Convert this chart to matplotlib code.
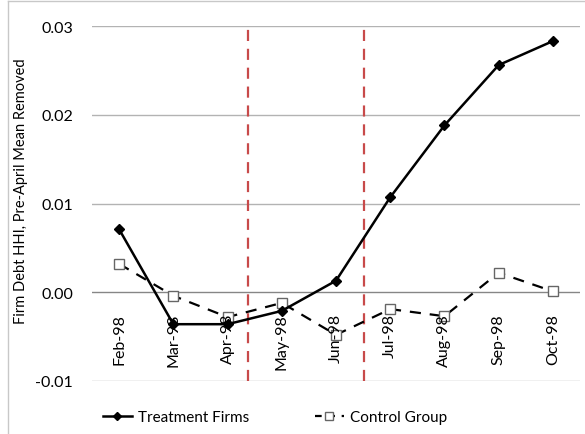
import matplotlib.pyplot as plt
from matplotlib.lines import Line2D

# data
months = ['Feb-98', 'Mar-98', 'Apr-98', 'May-98', 'Jun-98', 'Jul-98', 'Aug-98', 'Sep-98', 'Oct-98']
treatment = [0.0071, -0.0036, -0.0036, -0.0021, 0.0013, 0.0107, 0.0188, 0.0256, 0.0283]
control = [0.0032, -0.0004, -0.0028, -0.0012, -0.0048, -0.0019, -0.0027, 0.0022, 0.0001]
event_lines = [2.38, 4.52]

plt.rcParams['font.family'] = ['Lato', 'DejaVu Sans']

fig = plt.figure(figsize=(5.85, 4.35), dpi=100)
ax = fig.add_axes([92 / 585, 1 - 382 / 435, (580 - 92) / 585, (382 - 27) / 435])

x = list(range(len(months)))

# grid
for yv in [-0.01, 0.01, 0.02, 0.03]:
    ax.axhline(yv, color='#b3b3b3', lw=1, zorder=0)
ax.axhline(0, color='#868686', lw=1, zorder=1)

# vertical event lines
for xv in event_lines:
    ax.axvline(xv, color='#c84a4a', lw=1.6, dashes=(5, 3.5), zorder=2)

ax.plot(x, control, color='black', lw=1.6, dashes=(5, 4), marker='s', ms=6.5,
        mfc='white', mec='#666666', mew=1, zorder=3)
ax.plot(x, treatment, color='black', lw=1.8, marker='D', ms=5.5, zorder=4)

# month labels sitting just under the zero line
for i, m in enumerate(months):
    ax.annotate(m, (i, 0), xytext=(0, -15), textcoords='offset points',
                rotation=90, ha='center', va='top', fontsize=11.5)

ax.set_xlim(-0.5, 8.5)
ax.set_ylim(-0.01, 0.03)
ax.set_yticks([-0.01, 0.0, 0.01, 0.02, 0.03])
ax.set_yticklabels(['-0.01', '0.00', '0.01', '0.02', '0.03'], fontsize=11.5)
ax.tick_params(axis='y', length=0, pad=13.5)
ax.set_xticks([])
for s in ax.spines.values():
    s.set_visible(False)

fig.text(21 / 585, 1 - 191 / 435, 'Firm Debt HHI, Pre-April Mean Removed',
         rotation=90, ha='center', va='center', fontsize=10.5)

handles = [
    Line2D([], [], color='black', lw=1.8, marker='D', ms=4.5),
    Line2D([], [], color='black', lw=1.6, dashes=(3, 3), marker='s', ms=6,
           mfc='white', mec='#666666', mew=1),
]
fig.legend(handles, ['Treatment Firms', 'Control Group'], loc='center',
           bbox_to_anchor=(0.47, 1 - 418 / 435), ncol=2, frameon=False,
           fontsize=11, handlelength=1.9, handletextpad=0.4, columnspacing=4.3)

# outer border of the chart box
fig.add_artist(Line2D([8 / 585, 8 / 585], [0, 1 - 2 / 435], transform=fig.transFigure,
                      color='#c8c8c8', lw=1))
fig.add_artist(Line2D([8 / 585, 1], [1 - 2 / 435, 1 - 2 / 435], transform=fig.transFigure,
                      color='#c8c8c8', lw=1))

fig.savefig('out.png', dpi=100)
